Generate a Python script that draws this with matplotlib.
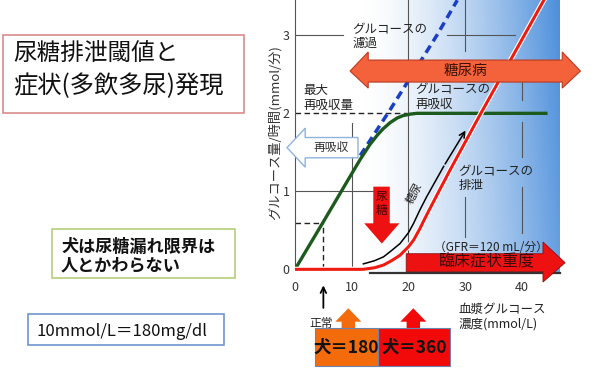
import numpy as np
import matplotlib
matplotlib.use("Agg")
import matplotlib.pyplot as plt
from matplotlib.patches import Polygon, Rectangle

plt.rcParams['font.family'] = ['Noto Sans CJK JP', 'DejaVu Sans']

# values (x: plasma glucose mmol/L, y: mmol/min)
filt_x = [11.5, 16.8, 25.0, 28.6]
filt_y = [1.46, 2.05, 3.0, 3.45]

reab_x = [0, 5, 9.7, 11.5, 13.2, 14.5, 15.5, 16.75, 18, 19, 20.3, 21.5, 44.5]
reab_y = [0, 0.61, 1.19, 1.41, 1.60, 1.72, 1.80, 1.88, 1.94, 1.97, 1.99, 2.0, 2.0]

excr_x = [0, 10, 12, 14, 15.6, 17, 18.5, 20, 20.9, 22, 22.6, 23.5, 25, 27.3, 32.6, 44]
excr_y = [0, 0, 0.0, 0.02, 0.055, 0.11, 0.18, 0.29, 0.375, 0.52, 0.61, 0.74, 0.95, 1.27, 1.98, 3.47]

gly_x = [12.05, 14, 15.6, 17, 18.5, 20, 20.9, 22, 23.2, 26.2, 30.3]
gly_y = [0.07, 0.11, 0.16, 0.24, 0.33, 0.47, 0.59, 0.76, 0.93, 1.32, 1.81]

normal_x = 5
normal_y = 0.6
tmax = 2.0

xticks = [0, 10, 20, 30, 40]
yticks = [0, 1, 2, 3]

fig = plt.figure(figsize=(6, 3.71), dpi=100)

# overlay in pixel coords for the boxes on the left / below
ov = fig.add_axes([0, 0, 1, 1], zorder=0)
ov.set_xlim(0, 600)
ov.set_ylim(371, 0)
ov.axis('off')

ax = fig.add_axes([295/600, 1 - 273/371, 265/600, 273/371], zorder=1)
xmax, ymin, ymax = 46.7, -0.047, 3.453

# background gradient
xx = np.linspace(0, 1, 300)
yy = np.linspace(1, 0, 200)
gx, gy = np.meshgrid(xx, yy)
t = np.clip((gx - 0.26) / 0.74, 0, 1) ** 1.5 * (0.85 + 0.15 * gy)
white = np.array([1.0, 1.0, 1.0])
blue = np.array([0.30, 0.56, 0.86])
img = white * (1 - t[..., None]) + blue * t[..., None]
ax.imshow(img, extent=[0, xmax, ymin, ymax], aspect='auto', zorder=0)

# partial grid
gc = '#555555'
for x, y0, y1 in [(10, 0.0, 1.88), (20, -0.04, 3.45), (30, 2.8, 3.45), (30, 0.42, 0.93),
                  (40, 2.17, 2.43), (40, 1.44, 1.89), (40, 0.47, 1.06)]:
    ax.plot([x, x], [y0, y1], color=gc, lw=0.8, zorder=1)
for y, x0, x1 in [(3, 0, 8.5), (3, 26.8, 38.8), (1, 0, 13.8)]:
    ax.plot([x0, x1], [y, y], color=gc, lw=0.8, zorder=1)
ax.plot([0, 19.7], [tmax, tmax], color='#222222', lw=1, ls=(0, (4, 2.5)), zorder=2)
ax.plot([0, normal_x], [normal_y, normal_y], color='#222222', lw=1, ls=(0, (4, 2.5)), zorder=2)
ax.plot([normal_x, normal_x], [0, normal_y], color='#222222', lw=1, ls=(0, (4, 2.5)), zorder=2)
ax.plot([13.2, xmax], [-0.043, -0.043], color='#333333', lw=1.6, zorder=2, clip_on=False)

# curves
ax.plot(filt_x, filt_y, color='#1a3fc4', lw=2.5, ls=(0, (2.4, 1.5)), zorder=3)
ax.plot(reab_x, reab_y, color='#1d5a1d', lw=2.4, zorder=4, solid_capstyle='butt')
ax.plot(excr_x, excr_y, color='white', lw=3.8, zorder=4)
ax.plot(excr_x, excr_y, color='#f01a10', lw=2.2, zorder=5)
ax.plot(gly_x[:-1], gly_y[:-1], color='black', lw=1.1, zorder=4)
ax.annotate('', xy=(gly_x[-1], gly_y[-1]), xytext=(gly_x[-2], gly_y[-2]),
            arrowprops=dict(arrowstyle='->', color='black', lw=1.1), zorder=4)

# 糖尿病 double arrow
bt, bb, ht, hb = 2.683, 2.401, 2.786, 2.324
mid = (bt + bb) / 2
pts = [(9.7, mid), (12.9, ht), (12.9, bt), (47.1, bt), (47.1, ht), (50.3, mid),
       (47.1, hb), (47.1, bb), (12.9, bb), (12.9, hb)]
ax.add_patch(Polygon(pts, closed=True, fc='#f4623c', ec='#b83a20', lw=0.8, zorder=6, clip_on=False))
ax.text(30, mid, '糖尿病', fontsize=10.5, color='#3a1208', ha='center', va='center', zorder=7)

# 臨床症状重度 arrow
pts = [(19.6, -0.03), (19.6, 0.2), (43.7, 0.2), (43.7, 0.35), (47.6, 0.085),
       (43.7, -0.163), (43.7, -0.03)]
ax.add_patch(Polygon(pts, closed=True, fc='#ee1111', ec='#8a1010', lw=0.6, zorder=6, clip_on=False))
ax.text(33.8, 0.09, '臨床症状重度', fontsize=11.5, color='#3a0a0a', ha='center', va='center', zorder=7)

# 再吸収 hollow arrow
pts = [(-1.4, 1.56), (1.8, 1.81), (1.8, 1.69), (11.1, 1.69), (11.1, 1.43), (1.8, 1.43), (1.8, 1.31)]
ax.add_patch(Polygon(pts, closed=True, fc='white', ec='#8fb3de', lw=1, zorder=6, clip_on=False))
ax.text(6.3, 1.56, '再吸収', fontsize=8.5, color='#333333', ha='center', va='center', zorder=7)

# 尿糖 down arrow
pts = [(13.8, 1.06), (16.7, 1.06), (16.7, 0.59), (18.4, 0.59), (15.3, 0.33), (12.2, 0.59), (13.8, 0.59)]
ax.add_patch(Polygon(pts, closed=True, fc='#ee1111', ec='none', zorder=6))
ax.text(15.25, 0.84, '尿\n糖', fontsize=8.5, color='#4a0000', ha='center', va='center',
        linespacing=1.1, zorder=7)

# labels inside the chart
tc = '#222222'
ax.text(10.1, 3.16, 'グルコースの\n濾過', fontsize=9, color=tc, va='top', linespacing=1.15, zorder=7)
ax.text(1.5, 2.37, '最大\n再吸収量', fontsize=9, color=tc, va='top', linespacing=1.15, zorder=7)
ax.text(21.2, 2.39, 'グルコースの\n再吸収', fontsize=9, color=tc, va='top', linespacing=1.15, zorder=7)
ax.text(28.8, 1.34, 'グルコースの\n排泄', fontsize=9, color=tc, va='top', linespacing=1.15, zorder=7)
ax.text(34.5, 0.28, '（GFR＝120 mL/分）', fontsize=8.5, color=tc, ha='center', va='center', zorder=7)
ax.text(21.0, 0.98, '糖尿', fontsize=8, color=tc, ha='center', va='center', rotation=61, zorder=7)
ax.text(28.8, -0.43, '血漿グルコース\n濃度(mmol/L)', fontsize=9, color=tc, va='top',
        linespacing=1.15, clip_on=False)
ax.text(-0.075, 0.513, 'グルコース量/時間(mmol/分)', fontsize=9.5, color='#333333', rotation=90,
        ha='center', va='center', transform=ax.transAxes)

# 正常 arrow
ax.annotate('', xy=(normal_x, -0.17), xytext=(normal_x, -0.53), annotation_clip=False,
            arrowprops=dict(arrowstyle='->', color='black', lw=1.3))

ax.set_xlim(0, xmax)
ax.set_ylim(ymin, ymax)
ax.set_xticks(xticks)
ax.set_yticks(yticks)
ax.tick_params(length=0, labelsize=9, labelcolor='#333333')
ax.tick_params(axis='x', pad=6)
ax.tick_params(axis='y', pad=4)
for s in ['top', 'right', 'bottom']:
    ax.spines[s].set_visible(False)
ax.spines['left'].set_color('#555555')
ax.spines['left'].set_bounds(0, ymax)

# left-hand boxes (pixel coords)
ov.add_patch(Rectangle((3, 35), 241, 78, fc='white', ec='#d98c8c', lw=1.2))
ov.text(13, 53, '尿糖排泄閾値と', fontsize=17, va='center', color='#111111')
ov.text(13, 86, '症状(多飲多尿)発現', fontsize=17.5, va='center', color='#111111')

ov.add_patch(Rectangle((52, 229), 183, 49, fc='white', ec='#b5cf7a', lw=1.2))
ov.text(61, 247, '犬は尿糖漏れ限界は', fontsize=12.3, fontweight='bold', va='center', color='#111111')
ov.text(61, 265, '人とかわらない', fontsize=12.3, fontweight='bold', va='center', color='#111111')

ov.add_patch(Rectangle((28, 314), 196, 31, fc='white', ec='#6f97cf', lw=1.2))
ov.text(37, 331, '10mmol/L＝180mg/dl', fontsize=12, va='center', color='#111111')

# 犬＝180 / 犬＝360 boxes with arrows
for x0, x1, tip, col, lab in [(315, 378.3, 348.3, '#f46b0c', '犬＝180'),
                              (378.3, 450, 413.3, '#f20a0a', '犬＝360')]:
    pts = [(tip - 6.7, 328.3), (tip - 6.7, 321.7), (tip - 13, 321.7), (tip, 308.3),
           (tip + 13, 321.7), (tip + 6.7, 321.7), (tip + 6.7, 328.3)]
    ov.add_patch(Polygon(pts, closed=True, fc=col, ec='none'))
    ov.add_patch(Rectangle((x0, 328.3), x1 - x0, 37.7, fc=col, ec='#6a86b0', lw=0.8))
    ov.text((x0 + x1) / 2, 348, lab, fontsize=12.5, fontweight='bold', ha='center', va='center',
            color='#111111')
ov.text(321, 323, '正常', fontsize=8.5, ha='center', va='center', color='#222222', zorder=3)

fig.savefig('out.png', dpi=100)
